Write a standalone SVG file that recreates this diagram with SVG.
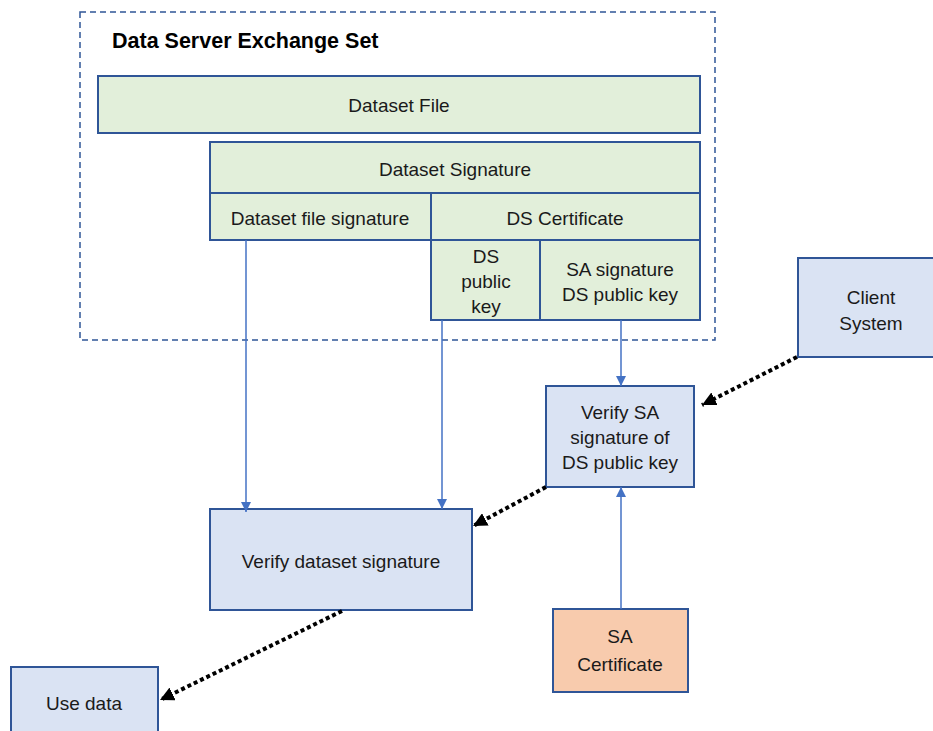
<svg xmlns="http://www.w3.org/2000/svg" width="933" height="731" viewBox="0 0 933 731">
<defs>
<style>
text{font-family:"Liberation Sans",Arial,sans-serif;font-size:19px;fill:#1a1a1a;text-anchor:middle;dominant-baseline:central}
.title{font-size:21.5px;font-weight:bold;text-anchor:start;fill:#000}
.g{fill:#e2efda;stroke:#2f5597;stroke-width:2}
.b{fill:#dae3f3;stroke:#2f5597;stroke-width:2}
.o{fill:#f8cbad;stroke:#2f5597;stroke-width:2}
.solid{stroke:#4472c4;stroke-width:1.5;fill:none}
.dot{stroke:#000;stroke-width:4;stroke-dasharray:4 3;fill:none}
</style>
<marker id="ab" viewBox="0 0 10 10" refX="10" refY="5" markerWidth="10" markerHeight="10" markerUnits="userSpaceOnUse" orient="auto"><path d="M0,0L10,5L0,10z" fill="#4472c4"/></marker>
<marker id="ak" viewBox="0 0 10 10" refX="10" refY="5" markerWidth="14" markerHeight="14" markerUnits="userSpaceOnUse" orient="auto"><path d="M0,0L10,5L0,10z" fill="#000"/></marker>
</defs>
<rect width="933" height="731" fill="#fff"/>
<g id="container">
<rect x="80" y="12" width="635" height="328" fill="none" stroke="#2f5597" stroke-width="1.5" stroke-dasharray="6 4"/>
<text class="title" x="112" y="41">Data Server Exchange Set</text>
</g>
<g id="dataset-file"><rect class="g" x="98" y="76" width="602" height="57"/><text x="399" y="105">Dataset File</text></g>
<g id="dataset-signature"><rect class="g" x="210" y="142" width="490" height="51"/><text x="455" y="169">Dataset Signature</text></g>
<g id="dataset-file-signature"><rect class="g" x="210" y="193" width="221" height="47"/><text x="320" y="218">Dataset file signature</text></g>
<g id="ds-certificate"><rect class="g" x="431" y="193" width="269" height="47"/><text x="565" y="218">DS Certificate</text></g>
<g id="ds-public-key"><rect class="g" x="431" y="240" width="109" height="80"/><text x="486" y="256">DS</text><text x="486" y="281">public</text><text x="486" y="306">key</text></g>
<g id="sa-signature"><rect class="g" x="540" y="240" width="160" height="80"/><text x="620" y="269">SA signature</text><text x="620" y="294">DS public key</text></g>
<g id="client-system"><rect class="b" x="798" y="258" width="145" height="99"/><text x="871" y="297">Client</text><text x="871" y="323">System</text></g>
<g id="verify-sa"><rect class="b" x="546" y="386" width="148" height="101"/><text x="620" y="412">Verify SA</text><text x="620" y="437">signature of</text><text x="620" y="462">DS public key</text></g>
<g id="verify-dataset"><rect class="b" x="210" y="509" width="262" height="101"/><text x="341" y="561">Verify dataset signature</text></g>
<g id="sa-certificate"><rect class="o" x="553" y="609" width="135" height="83"/><text x="620" y="636">SA</text><text x="620" y="664">Certificate</text></g>
<g id="use-data"><rect class="b" x="11" y="667" width="147" height="75"/><text x="84" y="703">Use data</text></g>
<g id="connectors">
<line class="solid" x1="246" y1="240" x2="246" y2="512" marker-end="url(#ab)"/>
<line class="solid" x1="442" y1="320" x2="442" y2="509" marker-end="url(#ab)"/>
<line class="solid" x1="621" y1="320" x2="621" y2="386" marker-end="url(#ab)"/>
<line class="solid" x1="621" y1="609" x2="621" y2="487" marker-end="url(#ab)"/>
<line class="dot" x1="797" y1="357" x2="702" y2="405" marker-end="url(#ak)"/>
<line class="dot" x1="546" y1="487" x2="473" y2="526" marker-end="url(#ak)"/>
<line class="dot" x1="342" y1="611" x2="160" y2="700" marker-end="url(#ak)"/>
</g>
</svg>
